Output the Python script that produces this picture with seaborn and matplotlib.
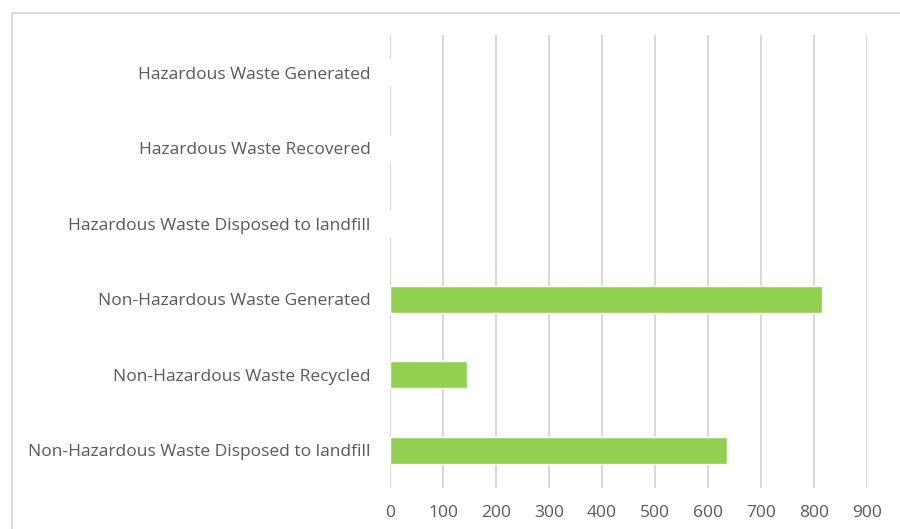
import matplotlib
matplotlib.use("Agg")
import matplotlib.pyplot as plt
import seaborn as sns
import pandas as pd
from matplotlib.patches import Rectangle

categories = [
    "Hazardous Waste Generated",
    "Hazardous Waste Recovered",
    "Hazardous Waste Disposed to landfill",
    "Non-Hazardous Waste Generated",
    "Non-Hazardous Waste Recycled",
    "Non-Hazardous Waste Disposed to landfill",
]
values = [0, 0, 0, 815, 145, 636]
x_ticks = [0, 100, 200, 300, 400, 500, 600, 700, 800, 900]

df = pd.DataFrame({"category": categories, "value": values})

sns.set_theme(style="white")
plt.rcParams["font.family"] = ["Open Sans", "DejaVu Sans"]

fig = plt.figure(figsize=(9, 5.29), dpi=100)
ax = fig.add_axes([390 / 900, 1 - 488 / 529, (867 - 390) / 900, (488 - 35) / 529])

sns.barplot(data=df, x="value", y="category", orient="h", color="#92d050",
            width=0.36, saturation=1, ax=ax, zorder=3)

ax.set_xlim(0, 900)
ax.set_xticks(x_ticks)
ax.set_xticklabels([str(t) for t in x_ticks])
ax.xaxis.grid(True, color="#d9d9d9", linewidth=1.5, zorder=0)
ax.yaxis.grid(False)
for s in ax.spines.values():
    s.set_visible(False)
ax.set_xlabel("")
ax.set_ylabel("")
ax.tick_params(axis="x", length=0, pad=12, labelsize=12.5, labelcolor="#595959")
ax.tick_params(axis="y", length=0, pad=14, labelsize=12.5, labelcolor="#595959")

# chart area border (top and left edges)
fig.add_artist(Rectangle((11.5 / 900, -0.1), 1.2, 1 - 12.5 / 529 + 0.1,
                         transform=fig.transFigure, fill=False,
                         edgecolor="#d9d9d9", linewidth=1.3))

fig.savefig("out.png", dpi=100)
